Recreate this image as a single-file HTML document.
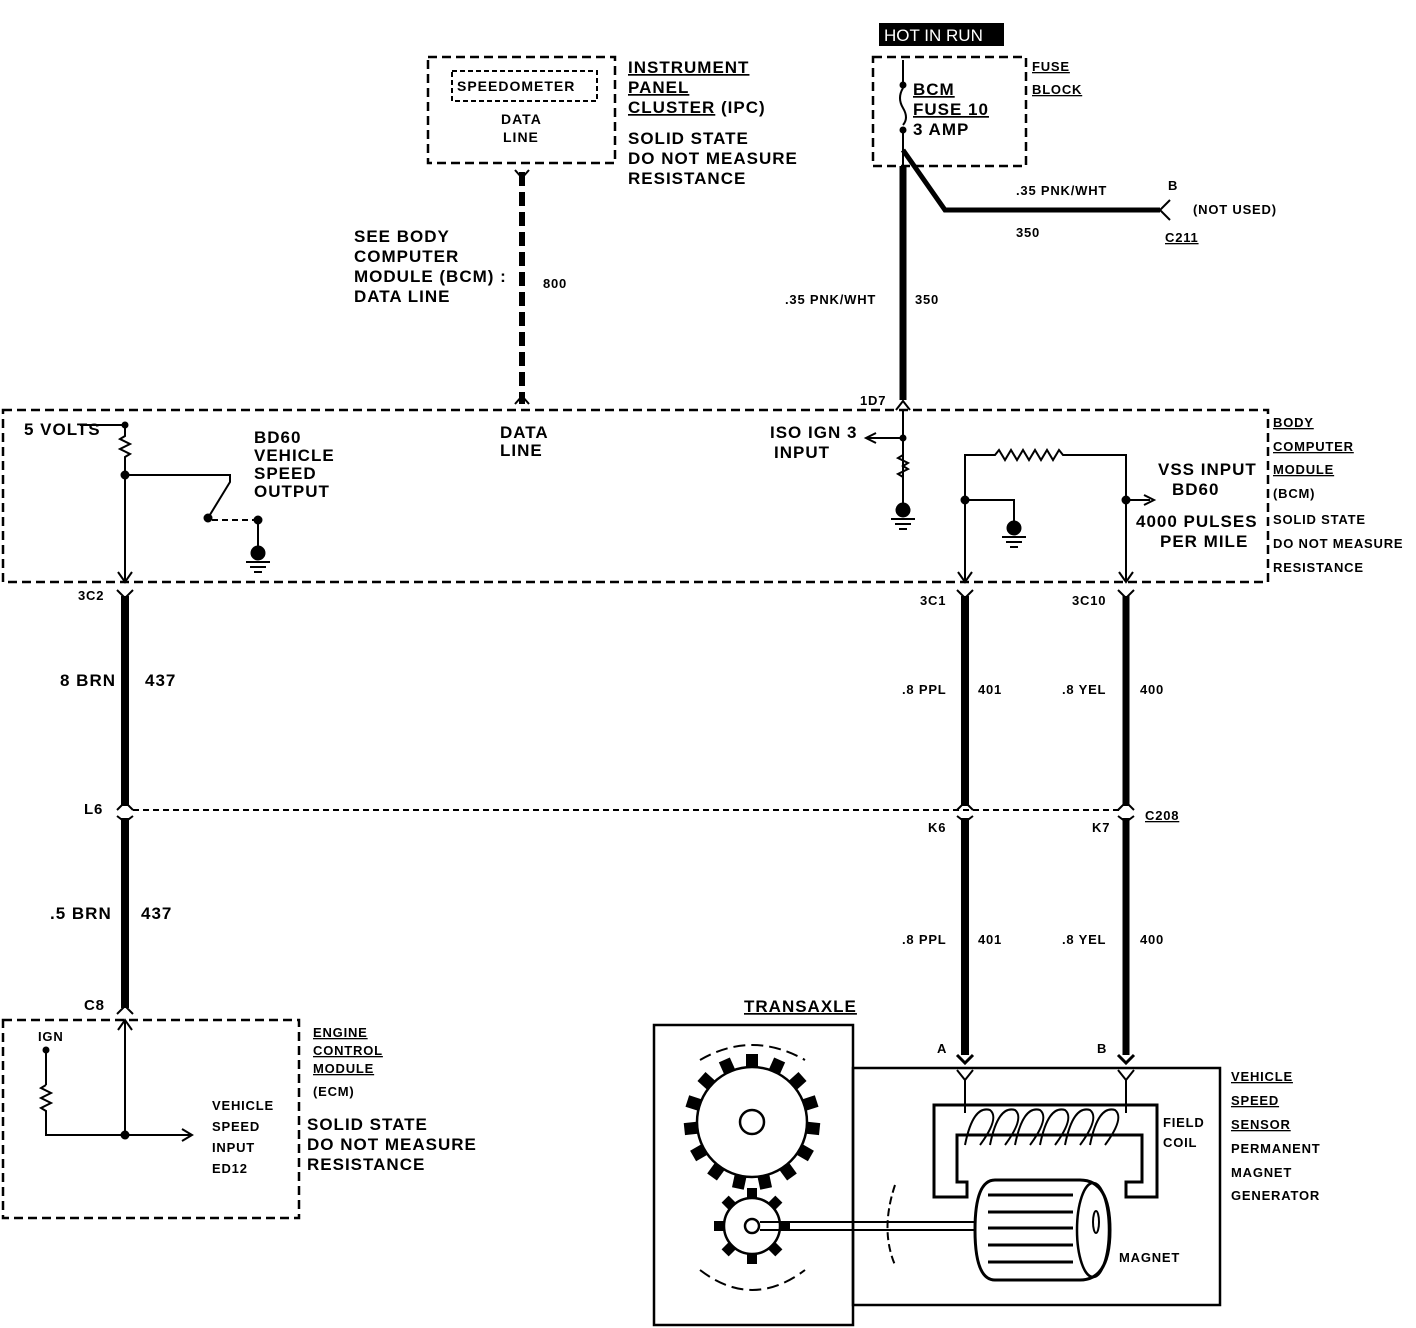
<!DOCTYPE html>
<html><head><meta charset="utf-8"><style>
body{margin:0;background:#fff}
svg{display:block}
text{font-family:"Liberation Sans",sans-serif;font-weight:bold;fill:#000}
.t{font-size:17px;letter-spacing:1px}
.s{font-size:14px}
.x{font-size:13px;letter-spacing:0.8px}
</style></head><body>
<svg width="1416" height="1328" viewBox="0 0 1416 1328" xmlns="http://www.w3.org/2000/svg">
<g fill="none" stroke="#000">
<rect x="428" y="57" width="187" height="106" stroke-width="2.5" stroke-dasharray="9,5"/>
<rect x="452" y="71" width="145" height="30" stroke-width="2" stroke-dasharray="5,3"/>
<rect x="873" y="57" width="153" height="109" stroke-width="2.5" stroke-dasharray="9,5"/>
<rect x="3" y="410" width="1265" height="172" stroke-width="2.5" stroke-dasharray="9,5"/>
<rect x="3" y="1020" width="296" height="198" stroke-width="2.5" stroke-dasharray="9,5"/>
<line x1="522" y1="172" x2="522" y2="404" stroke-width="6" stroke-dasharray="14,6"/>
<path d="M515 170 L522 178 L529 170 M515 404 L522 396 L529 404" stroke-width="2"/>
<line x1="903" y1="60" x2="903" y2="85" stroke-width="2"/>
<circle cx="903" cy="85" r="3" fill="#000"/>
<path d="M903 88 q-6 10 0 20 q6 10 0 17" stroke-width="2"/>
<circle cx="903" cy="130" r="3" fill="#000"/>
<line x1="903" y1="133" x2="903" y2="166" stroke-width="2"/>
<line x1="903" y1="166" x2="903" y2="400" stroke-width="7"/>
<path d="M903 150 L945 210 L1160 210" stroke-width="5"/>
<path d="M1170 200 L1160 210 L1170 220" stroke-width="2"/>
<path d="M896 410 L903 401 L910 410" stroke-width="2"/>
<line x1="80" y1="425" x2="125" y2="425" stroke-width="2"/>
<circle cx="125" cy="425" r="3" fill="#000"/>
<path d="M125 428 v8 l-5 3 l10 5 l-10 5 l10 5 l-5 3 v20" stroke-width="2"/>
<circle cx="125" cy="475" r="4" fill="#000"/>
<line x1="125" y1="475" x2="125" y2="580" stroke-width="2"/>
<path d="M118 572 L125 582 L132 572" stroke-width="2"/>
<path d="M125 475 H230 V482 L208 518" stroke-width="2"/>
<circle cx="208" cy="518" r="4" fill="#000"/>
<path d="M212 520 L258 520" stroke-width="2" stroke-dasharray="6,4"/>
<circle cx="258" cy="520" r="4" fill="#000"/>
<line x1="258" y1="520" x2="258" y2="548" stroke-width="2"/>
<circle cx="258" cy="553" r="7" fill="#000"/>
<path d="M246 562 h24 M250 567 h16 M254 572 h8" stroke-width="2"/>
<line x1="903" y1="410" x2="903" y2="505" stroke-width="2"/>
<circle cx="903" cy="438" r="3" fill="#000"/>
<path d="M903 438 H868 M876 433 L866 438 L876 443" stroke-width="2"/>
<path d="M903 455 l-5 3 l10 5 l-5 3 l5 3 l-10 5 l5 3" stroke-width="2"/>
<circle cx="903" cy="510" r="7" fill="#000"/>
<path d="M891 519 h24 M895 524 h16 M899 529 h8" stroke-width="2"/>
<path d="M965 580 V455 H995 l4 -5 l6 10 l6 -10 l6 10 l6 -10 l6 10 l6 -10 l6 10 l6 -10 l6 10 l6 -10 l4 5 H1126 V580" stroke-width="2"/>
<circle cx="965" cy="500" r="4" fill="#000"/>
<circle cx="1126" cy="500" r="4" fill="#000"/>
<path d="M965 500 H1014 V522" stroke-width="2"/>
<circle cx="1014" cy="528" r="7" fill="#000"/>
<path d="M1002 537 h24 M1006 542 h16 M1010 547 h8" stroke-width="2"/>
<path d="M1126 500 H1150 M1144 495 L1154 500 L1144 505" stroke-width="2"/>
<path d="M958 572 L965 582 L972 572 M1119 572 L1126 582 L1133 572" stroke-width="2"/>
<line x1="125" y1="596" x2="125" y2="806" stroke-width="8"/>
<line x1="125" y1="818" x2="125" y2="1008" stroke-width="8"/>
<line x1="965" y1="596" x2="965" y2="806" stroke-width="8"/>
<line x1="965" y1="818" x2="965" y2="1055" stroke-width="8"/>
<line x1="1126" y1="596" x2="1126" y2="806" stroke-width="7"/>
<line x1="1126" y1="818" x2="1126" y2="1055" stroke-width="7"/>
<g stroke-width="2">
<path d="M117 590 L125 598 L133 590 M117 810 L125 802 L133 810 M117 816 L125 822 L133 816 M117 1014 L125 1006 L133 1014"/>
<path d="M957 590 L965 598 L973 590 M957 810 L965 802 L973 810 M957 816 L965 822 L973 816"/>
<path d="M1118 590 L1126 598 L1134 590 M1118 810 L1126 802 L1134 810 M1118 816 L1126 822 L1134 816"/>
</g>
<line x1="133" y1="810" x2="1120" y2="810" stroke-width="2" stroke-dasharray="6,4"/>
<line x1="125" y1="1020" x2="125" y2="1135" stroke-width="2"/>
<path d="M118 1030 L125 1020 L132 1030" stroke-width="2"/>
<line x1="46" y1="1048" x2="46" y2="1085" stroke-width="2"/>
<circle cx="46" cy="1050" r="3" fill="#000"/>
<path d="M46 1085 l-5 3 l10 5 l-10 5 l10 5 l-10 5 l5 3 V1135 H190" stroke-width="2"/>
<circle cx="125" cy="1135" r="4" fill="#000"/>
<path d="M182 1129 L192 1135 L182 1141" stroke-width="2"/>
<rect x="654" y="1025" width="199" height="300" stroke-width="2.5"/>
<rect x="853" y="1068" width="367" height="237" stroke-width="2.5"/>
<path d="M957 1055 L965 1063 L973 1055 M1118 1055 L1126 1063 L1134 1055" stroke-width="3"/>
<path d="M957 1070 L965 1080 L973 1070 M1118 1070 L1126 1080 L1134 1070" stroke-width="2"/>
<path d="M965 1080 V1113 M1126 1080 V1113" stroke-width="2"/>
<path d="M934 1197 V1105 H1157 V1197 H1126 V1182 H1142 V1135 H957 V1182 H967 V1197 Z" stroke-width="3"/>
<path d="M965 1145 q8 -40 25 -35 q10 8 -10 35 M990 1145 q8 -40 25 -35 q10 8 -10 35 M1015 1145 q8 -40 25 -35 q10 8 -10 35 M1040 1145 q8 -40 25 -35 q10 8 -10 35 M1065 1145 q8 -40 25 -35 q10 8 -10 35 M1090 1145 q8 -40 25 -35 q10 8 -10 35" stroke-width="2"/>
<path d="M995 1180 H1080 Q1110 1180 1110 1230 Q1110 1280 1080 1280 H995 Q975 1280 975 1230 Q975 1180 995 1180 Z" stroke-width="3" fill="#fff"/>
<ellipse cx="1093" cy="1230" rx="16" ry="47" stroke-width="2.5"/>
<ellipse cx="1096" cy="1222" rx="3" ry="11" stroke-width="2"/>
<path d="M988 1195 H1073 M988 1212 H1073 M988 1228 H1073 M988 1245 H1073 M988 1262 H1073" stroke-width="3"/>
<path d="M760 1222 H975 M760 1230 H975" stroke-width="2"/>
<path d="M895 1185 Q880 1230 895 1265" stroke-width="2" stroke-dasharray="8,4"/>
<g stroke-width="2.5">
<circle cx="752" cy="1122" r="55"/>
<circle cx="752" cy="1122" r="12"/>
<circle cx="752" cy="1226" r="28"/>
<circle cx="752" cy="1226" r="7"/>
</g>
<path d="M700 1060 Q752 1030 805 1060" stroke-width="2" stroke-dasharray="12,6"/>
<path d="M700 1270 Q752 1310 805 1270" stroke-width="2" stroke-dasharray="12,6"/>
</g>
<g fill="#000">
<g transform="translate(752 1122)">
<rect x="-6" y="-68" width="12" height="14"/><rect x="-6" y="-68" width="12" height="14" transform="rotate(24)"/><rect x="-6" y="-68" width="12" height="14" transform="rotate(48)"/><rect x="-6" y="-68" width="12" height="14" transform="rotate(72)"/><rect x="-6" y="-68" width="12" height="14" transform="rotate(96)"/><rect x="-6" y="-68" width="12" height="14" transform="rotate(120)"/><rect x="-6" y="-68" width="12" height="14" transform="rotate(144)"/><rect x="-6" y="-68" width="12" height="14" transform="rotate(168)"/><rect x="-6" y="-68" width="12" height="14" transform="rotate(192)"/><rect x="-6" y="-68" width="12" height="14" transform="rotate(216)"/><rect x="-6" y="-68" width="12" height="14" transform="rotate(240)"/><rect x="-6" y="-68" width="12" height="14" transform="rotate(264)"/><rect x="-6" y="-68" width="12" height="14" transform="rotate(288)"/><rect x="-6" y="-68" width="12" height="14" transform="rotate(312)"/><rect x="-6" y="-68" width="12" height="14" transform="rotate(336)"/>
</g>
<g transform="translate(752 1226)">
<rect x="-5" y="-38" width="10" height="11"/><rect x="-5" y="-38" width="10" height="11" transform="rotate(45)"/><rect x="-5" y="-38" width="10" height="11" transform="rotate(90)"/><rect x="-5" y="-38" width="10" height="11" transform="rotate(135)"/><rect x="-5" y="-38" width="10" height="11" transform="rotate(180)"/><rect x="-5" y="-38" width="10" height="11" transform="rotate(225)"/><rect x="-5" y="-38" width="10" height="11" transform="rotate(270)"/><rect x="-5" y="-38" width="10" height="11" transform="rotate(315)"/>
</g>
<rect x="879" y="23" width="125" height="23"/>
</g>
<text x="884" y="41" style="font-size:17px;fill:#fff;font-weight:normal">HOT IN RUN</text>
<g class="t">
<text x="457" y="91" class="s">SPEEDOMETER</text>
<text x="501" y="124" class="s">DATA</text><text x="503" y="142" class="s">LINE</text>
<text x="628" y="73" text-decoration="underline">INSTRUMENT</text>
<text x="628" y="93" text-decoration="underline">PANEL</text>
<text x="628" y="113"><tspan text-decoration="underline">CLUSTER</tspan> (IPC)</text>
<text x="628" y="144">SOLID STATE</text>
<text x="628" y="164">DO NOT MEASURE</text>
<text x="628" y="184">RESISTANCE</text>
<text x="354" y="242">SEE BODY</text>
<text x="354" y="262">COMPUTER</text>
<text x="354" y="282">MODULE (BCM) :</text>
<text x="354" y="302">DATA LINE</text>
<text x="913" y="95" text-decoration="underline">BCM</text>
<text x="913" y="115" text-decoration="underline">FUSE 10</text>
<text x="913" y="135">3 AMP</text>
<text x="500" y="438">DATA</text><text x="500" y="456">LINE</text>
<text x="24" y="435">5 VOLTS</text>
<text x="254" y="443">BD60</text><text x="254" y="461">VEHICLE</text><text x="254" y="479">SPEED</text><text x="254" y="497">OUTPUT</text>
<text x="770" y="438">ISO IGN 3</text><text x="774" y="458">INPUT</text>
<text x="1158" y="475">VSS INPUT</text><text x="1172" y="495">BD60</text>
<text x="1136" y="527">4000 PULSES</text><text x="1160" y="547">PER MILE</text>
<text x="60" y="686">8 BRN</text><text x="145" y="686">437</text>
<text x="50" y="919">.5 BRN</text><text x="141" y="919">437</text>
<text x="307" y="1130">SOLID STATE</text><text x="307" y="1150">DO NOT MEASURE</text><text x="307" y="1170">RESISTANCE</text>
<text x="744" y="1012" text-decoration="underline">TRANSAXLE</text>
</g>
<g class="x">
<text x="543" y="288">800</text>
<text x="785" y="304">.35 PNK/WHT</text><text x="915" y="304">350</text>
<text x="1016" y="195">.35 PNK/WHT</text><text x="1168" y="190">B</text>
<text x="1193" y="214">(NOT USED)</text>
<text x="1016" y="237">350</text><text x="1165" y="242" text-decoration="underline">C211</text>
<text x="1032" y="71" text-decoration="underline">FUSE</text><text x="1032" y="94" text-decoration="underline">BLOCK</text>
<text x="860" y="405">1D7</text>
<text x="1273" y="427" text-decoration="underline">BODY</text>
<text x="1273" y="451" text-decoration="underline">COMPUTER</text>
<text x="1273" y="474" text-decoration="underline">MODULE</text>
<text x="1273" y="498">(BCM)</text>
<text x="1273" y="524">SOLID STATE</text>
<text x="1273" y="548">DO NOT MEASURE</text>
<text x="1273" y="572">RESISTANCE</text>
<text x="78" y="600">3C2</text><text x="920" y="605">3C1</text><text x="1072" y="605">3C10</text>
<text x="902" y="694">.8 PPL</text><text x="978" y="694">401</text>
<text x="1062" y="694">.8 YEL</text><text x="1140" y="694">400</text>
<text x="84" y="814" style="font-size:15px">L6</text>
<text x="928" y="832">K6</text><text x="1092" y="832">K7</text>
<text x="1145" y="820" text-decoration="underline">C208</text>
<text x="902" y="944">.8 PPL</text><text x="978" y="944">401</text>
<text x="1062" y="944">.8 YEL</text><text x="1140" y="944">400</text>
<text x="84" y="1010" style="font-size:15px">C8</text>
<text x="937" y="1053">A</text><text x="1097" y="1053">B</text>
<text x="38" y="1041">IGN</text>
<text x="212" y="1110">VEHICLE</text><text x="212" y="1131">SPEED</text><text x="212" y="1152">INPUT</text><text x="212" y="1173">ED12</text>
<text x="313" y="1037" text-decoration="underline">ENGINE</text>
<text x="313" y="1055" text-decoration="underline">CONTROL</text>
<text x="313" y="1073" text-decoration="underline">MODULE</text>
<text x="313" y="1096">(ECM)</text>
<text x="1163" y="1127">FIELD</text><text x="1163" y="1147">COIL</text>
<text x="1119" y="1262">MAGNET</text>
<text x="1231" y="1081" text-decoration="underline">VEHICLE</text>
<text x="1231" y="1105" text-decoration="underline">SPEED</text>
<text x="1231" y="1129" text-decoration="underline">SENSOR</text>
<text x="1231" y="1153">PERMANENT</text>
<text x="1231" y="1177">MAGNET</text>
<text x="1231" y="1200">GENERATOR</text>
</g>
</svg>
</body></html>
